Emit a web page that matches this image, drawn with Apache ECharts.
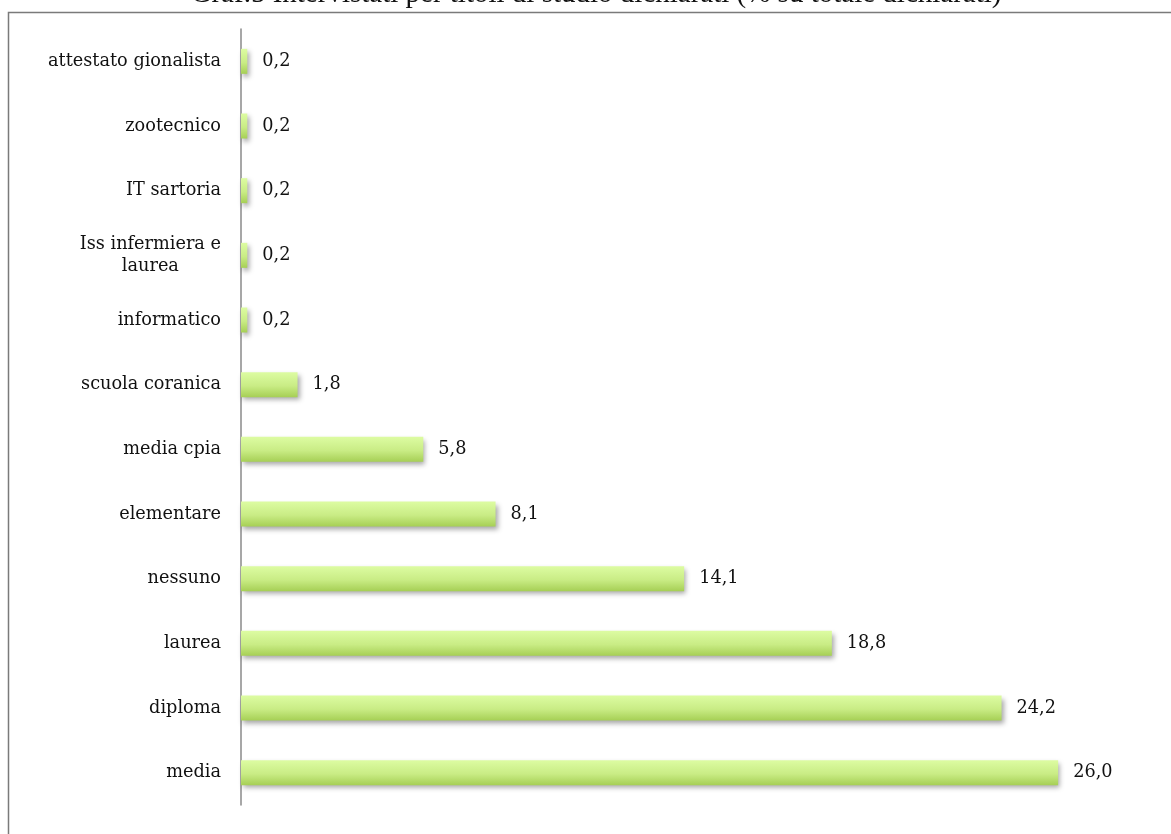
<!DOCTYPE html>
<html>
<head>
<meta charset="utf-8">
<style>
  html, body { margin: 0; padding: 0; background: #fff; }
  #chart { width: 1171px; height: 834px; }
</style>
<script src="https://cdn.jsdelivr.net/npm/echarts@6/dist/echarts.min.js"></script>
</head>
<body>
<div id="chart"></div>
<script>
// Titles of study, listed top to bottom
const categories = [
  'attestato gionalista', 'zootecnico', 'IT sartoria', 'Iss infermiera e\nlaurea',
  'informatico', 'scuola coranica', 'media cpia', 'elementare',
  'nessuno', 'laurea', 'diploma', 'media'
];
// Share of respondents (%)
const values = [0.2, 0.2, 0.2, 0.2, 0.2, 1.8, 5.8, 8.1, 14.1, 18.8, 24.2, 26.0];
const chartTitle = 'Graf.5 Intervistati per titoli di studio dichiarati (% su totale dichiarati)';

const serif = '"DejaVu Serif", "Liberation Serif", serif';
const titleSerif = '"Liberation Serif", serif';
const chart = echarts.init(document.getElementById('chart'), null, { renderer: 'canvas' });

chart.setOption({
  backgroundColor: '#ffffff',
  animation: false,
  graphic: [
    {
      type: 'rect', silent: true, z: 0,
      shape: { x: 8.5, y: 12.5, width: 1250, height: 900 },
      style: { fill: 'none', stroke: '#7a7a7a', lineWidth: 1.5 }
    },
    {
      type: 'text', silent: true, z: 10,
      x: 596, y: 9,
      style: {
        text: chartTitle, fill: '#111', font: '29px ' + titleSerif,
        align: 'center', verticalAlign: 'bottom'
      }
    }
  ],
  grid: { left: 241, right: 50, top: 29, bottom: 29, containLabel: false },
  xAxis: {
    type: 'value', min: 0, max: 28,
    axisLine: { show: false }, axisTick: { show: false },
    axisLabel: { show: false }, splitLine: { show: false }
  },
  yAxis: {
    type: 'category', inverse: true, data: categories,
    axisLine: { show: true, lineStyle: { color: '#8a8a8a', width: 1.5 } },
    axisTick: { show: false },
    axisLabel: {
      margin: 20,
      formatter: v => v.split('\n').map(s => '{c|' + s + '}').join('\n'),
      rich: { c: { fontFamily: serif, fontSize: 17.7, color: '#111', align: 'center', lineHeight: 22 } }
    }
  },
  series: [{
    type: 'bar', data: values, barWidth: 25,
    itemStyle: {
      color: new echarts.graphic.LinearGradient(0, 0, 0, 1, [
        { offset: 0, color: '#ddfca2' },
        { offset: 0.55, color: '#c9ec85' },
        { offset: 1, color: '#a6cf55' }
      ]),
      shadowColor: 'rgba(0,0,0,0.35)', shadowBlur: 5, shadowOffsetX: 2, shadowOffsetY: 3
    },
    label: {
      show: true, position: 'right', distance: 15,
      fontFamily: serif, fontSize: 17.7, color: '#111',
      formatter: p => p.value.toFixed(1).replace('.', ',')
    }
  }]
});
</script>
</body>
</html>
